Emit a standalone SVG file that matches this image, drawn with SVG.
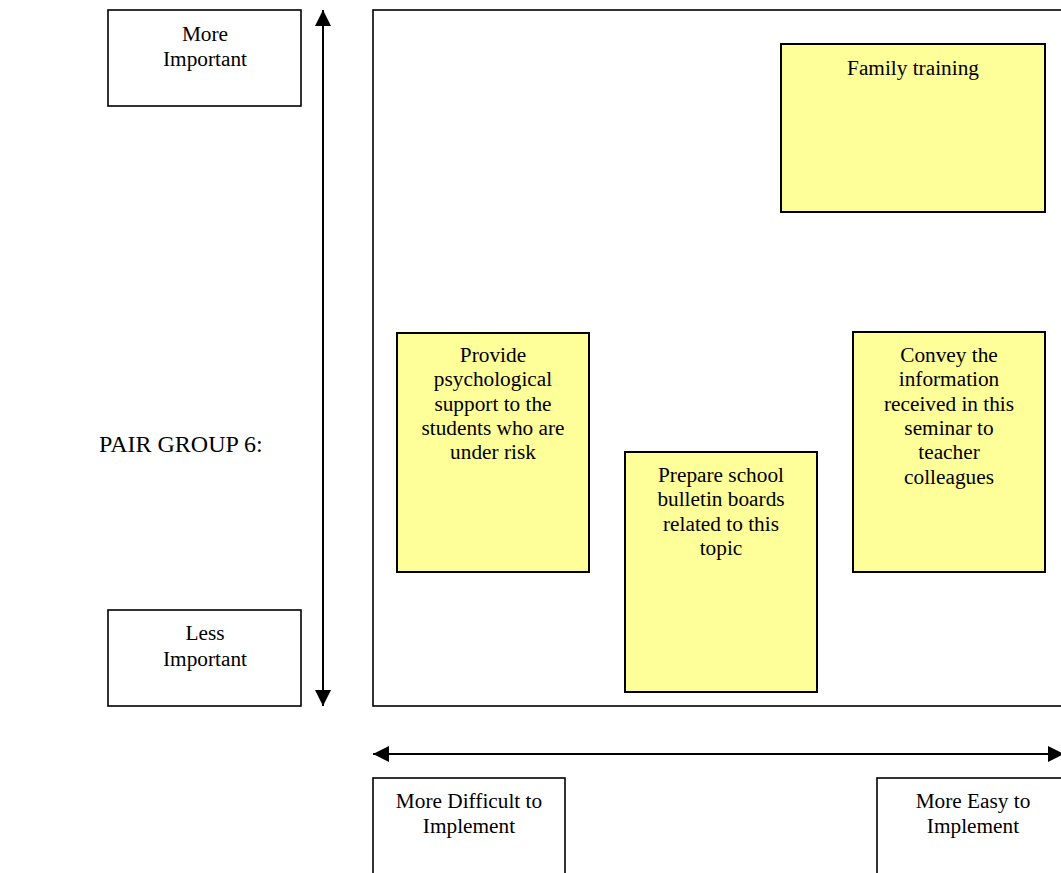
<svg xmlns="http://www.w3.org/2000/svg" width="1061" height="873" viewBox="0 0 1061 873">
<style>
text{font-family:"Liberation Serif","Times New Roman",serif;font-size:21.3px;fill:#000;text-anchor:middle}
.box{fill:#fff;stroke:#000;stroke-width:1.6}
.note{fill:#ffff99;stroke:#000;stroke-width:2}
.frame{fill:none;stroke:#000;stroke-width:1.6}
.axis{stroke:#000;stroke-width:2;fill:none}
.title{font-size:24px;text-anchor:start}
</style>
<defs>
<marker id="ah" viewBox="0 0 16 16" refX="16" refY="8" markerWidth="16" markerHeight="16" markerUnits="userSpaceOnUse" orient="auto-start-reverse">
<path d="M0,0 L16,8 L0,16 z" fill="#000"/>
</marker>
</defs>
<rect class="frame" x="373" y="10" width="700" height="696"/>
<g id="connectors">
<line class="axis" x1="323" y1="706" x2="323" y2="10" marker-start="url(#ah)" marker-end="url(#ah)"/>
<line class="axis" x1="373" y1="754" x2="1064" y2="754" marker-start="url(#ah)" marker-end="url(#ah)"/>
</g>
<g id="title"><text class="title" x="99" y="452">PAIR GROUP 6:</text></g>
<g id="more-important">
<rect class="box" x="108" y="10" width="193" height="96"/>
<text x="205" y="40.5">More</text>
<text x="205" y="66">Important</text>
</g>
<g id="less-important">
<rect class="box" x="108" y="610" width="193" height="96"/>
<text x="205" y="640">Less</text>
<text x="205" y="665.7">Important</text>
</g>
<g id="more-difficult">
<rect class="box" x="373" y="778" width="192" height="110"/>
<text x="469" y="808.3">More Difficult to</text>
<text x="469" y="833.3">Implement</text>
</g>
<g id="more-easy">
<rect class="box" x="877" y="778" width="193" height="110"/>
<text x="973" y="808.3">More Easy to</text>
<text x="973" y="833.3">Implement</text>
</g>
<g id="family-training">
<rect class="note" x="781" y="44" width="264" height="168"/>
<text x="913" y="75">Family training</text>
</g>
<g id="psych-support">
<rect class="note" x="397" y="333" width="192" height="239"/>
<text x="493" y="361.7">Provide</text>
<text x="493" y="386">psychological</text>
<text x="493" y="410.5">support to the</text>
<text x="493" y="435">students who are</text>
<text x="493" y="459.3">under risk</text>
</g>
<g id="bulletin-boards">
<rect class="note" x="625" y="452" width="192" height="240"/>
<text x="721" y="481.7">Prepare school</text>
<text x="721" y="506">bulletin boards</text>
<text x="721" y="530.5">related to this</text>
<text x="721" y="555">topic</text>
</g>
<g id="convey-info">
<rect class="note" x="853" y="332" width="192" height="240"/>
<text x="949" y="361.7">Convey the</text>
<text x="949" y="386">information</text>
<text x="949" y="410.5">received in this</text>
<text x="949" y="435">seminar to</text>
<text x="949" y="459.3">teacher</text>
<text x="949" y="484">colleagues</text>
</g>
</svg>
